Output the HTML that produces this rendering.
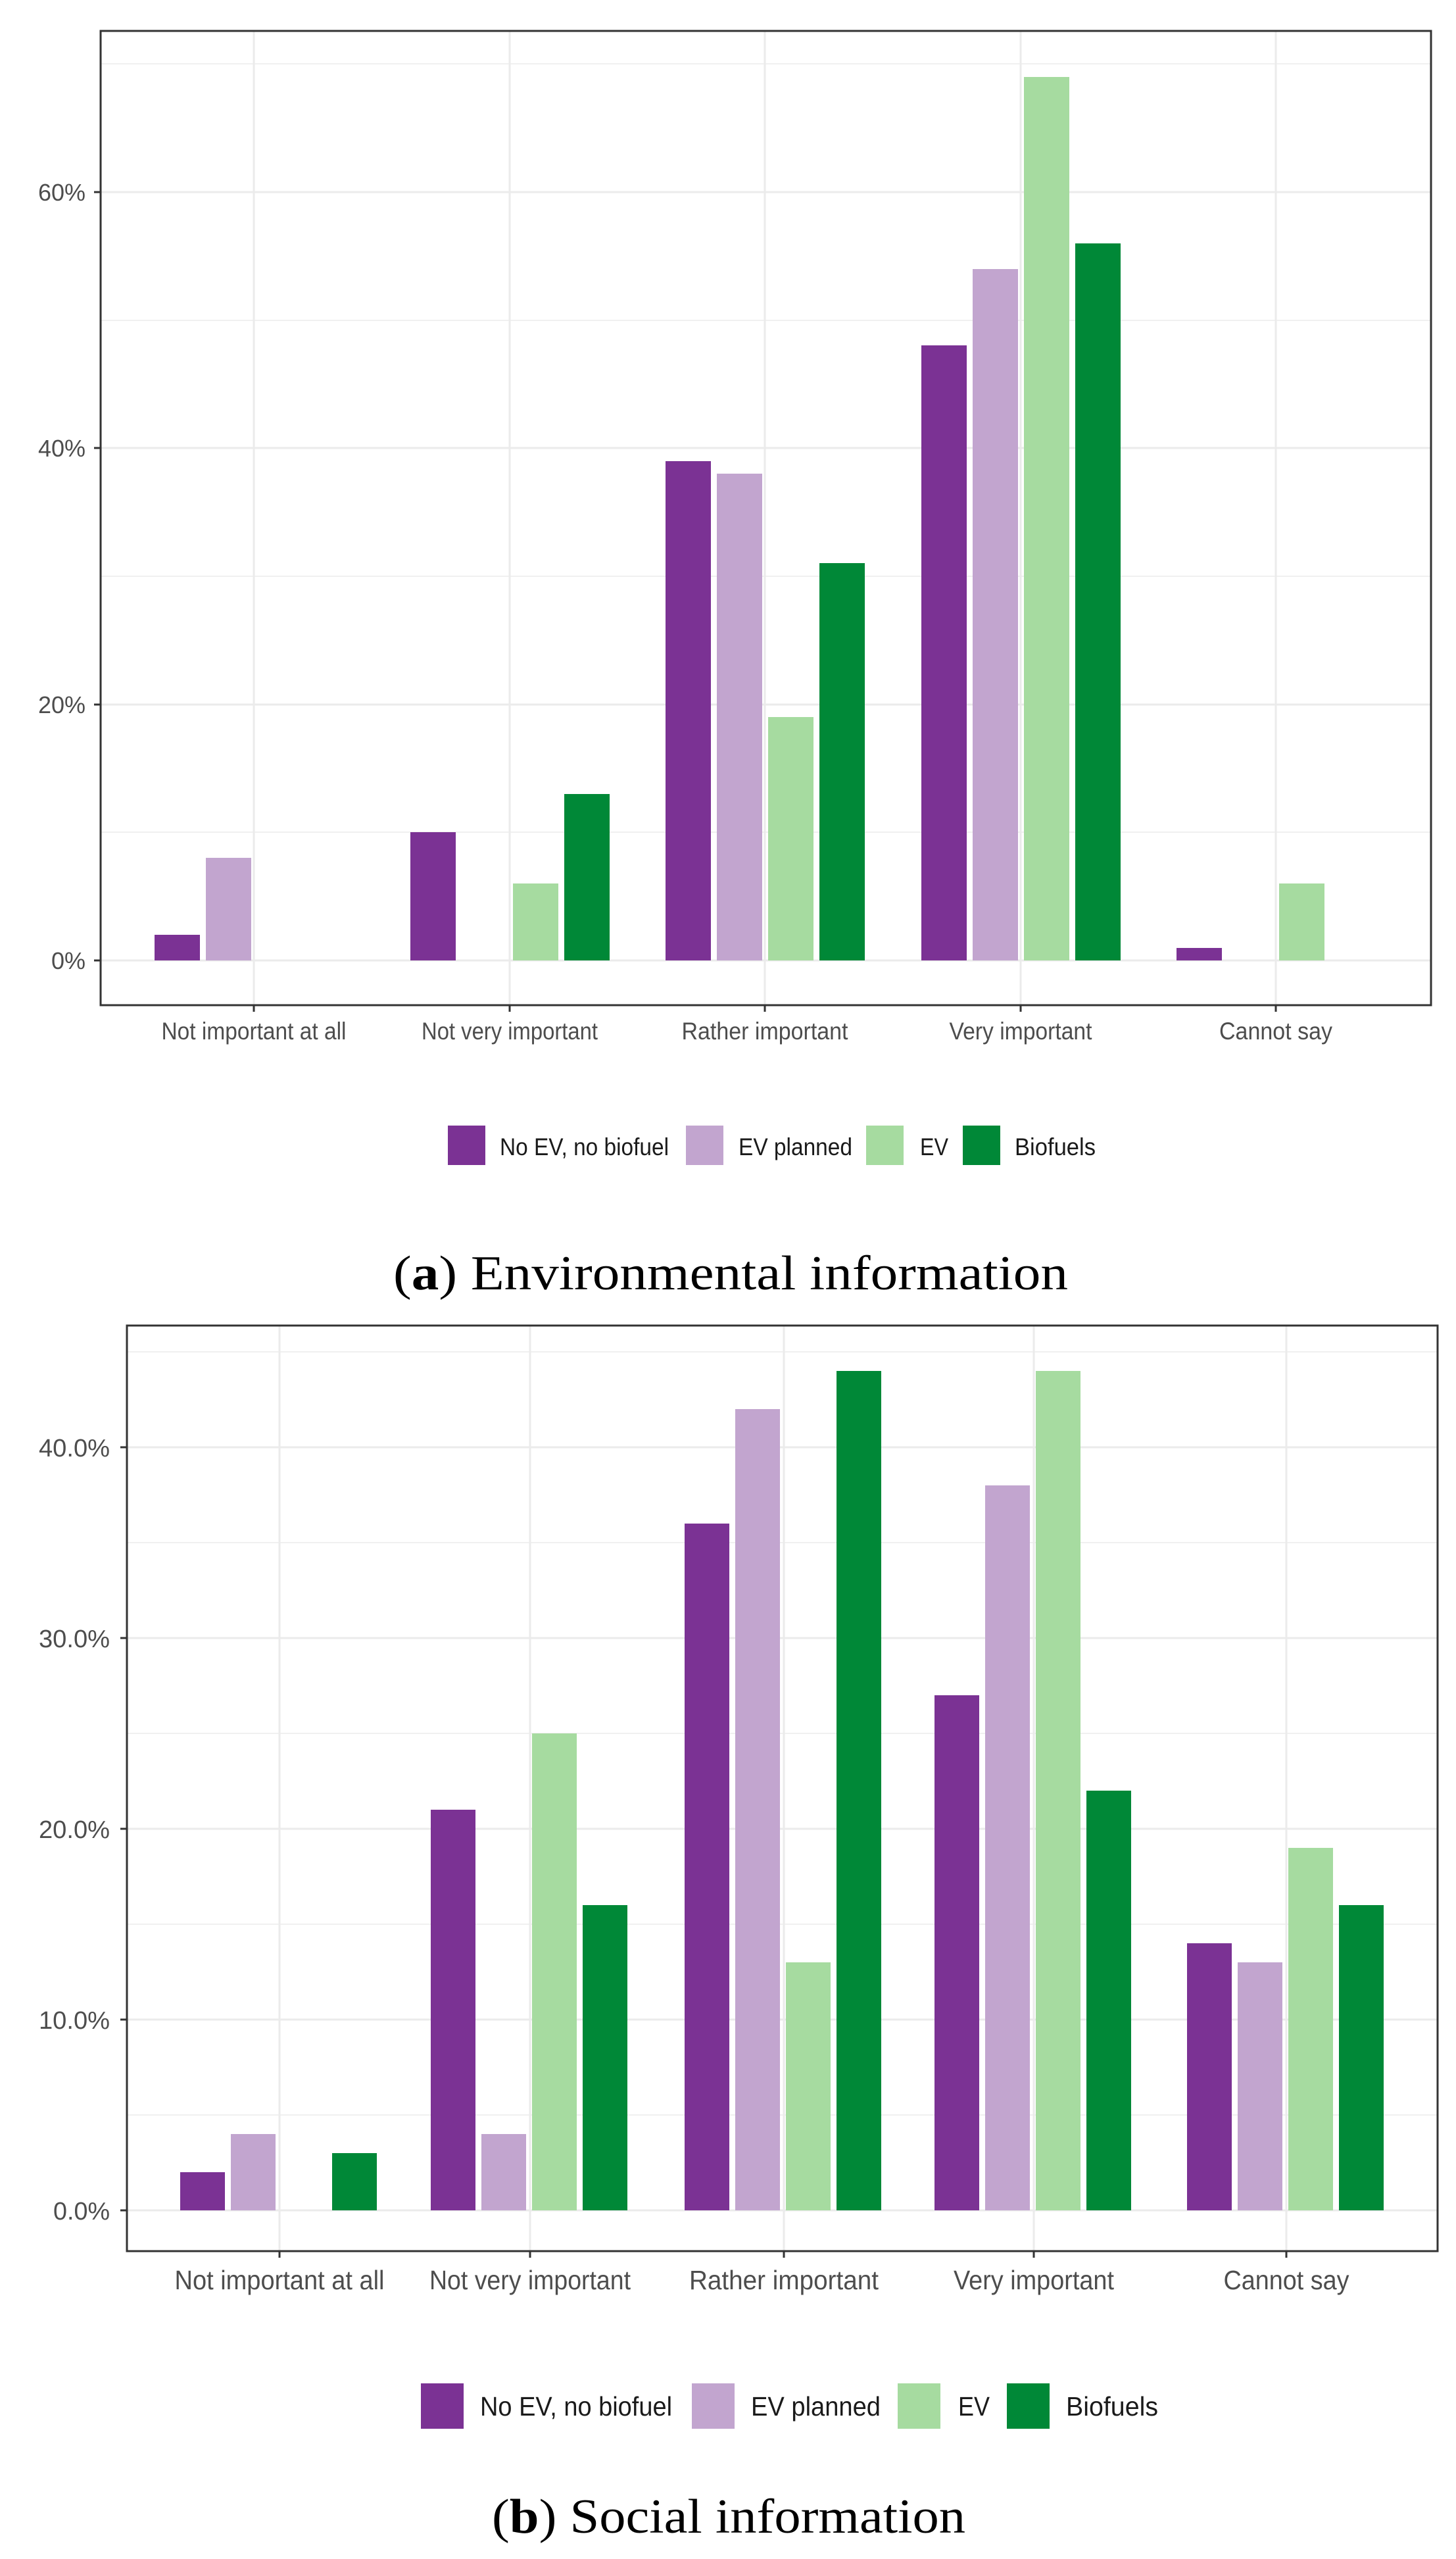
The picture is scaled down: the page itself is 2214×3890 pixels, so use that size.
<!DOCTYPE html>
<html><head><meta charset="utf-8"><style>
html,body{margin:0;padding:0;background:#fff;}
svg{display:block;}
.t{font-family:"Liberation Sans",Arial,sans-serif;fill:#4d4d4d;}
.l{font-family:"Liberation Sans",Arial,sans-serif;fill:#1a1a1a;}
.c{font-family:"Liberation Serif","DejaVu Serif",serif;fill:#000;}
</style></head><body>
<svg width="2214" height="3890" xmlns="http://www.w3.org/2000/svg">
<rect width="2214" height="3890" fill="#fff"/>
<!-- Chart A -->
<g stroke="#ebebeb" stroke-width="1.5">
<line x1="153" x2="2176" y1="1265" y2="1265"/><line x1="153" x2="2176" y1="876" y2="876"/><line x1="153" x2="2176" y1="487" y2="487"/><line x1="153" x2="2176" y1="97" y2="97"/>
</g>
<g stroke="#ebebeb" stroke-width="3">
<line x1="153" x2="2176" y1="1460" y2="1460"/><line x1="153" x2="2176" y1="1071" y2="1071"/><line x1="153" x2="2176" y1="681" y2="681"/><line x1="153" x2="2176" y1="292" y2="292"/>
<line x1="386" x2="386" y1="47" y2="1528"/><line x1="775" x2="775" y1="47" y2="1528"/><line x1="1163" x2="1163" y1="47" y2="1528"/><line x1="1552" x2="1552" y1="47" y2="1528"/><line x1="1940" x2="1940" y1="47" y2="1528"/>
</g>
<g>
<rect x="235" y="1421" width="69" height="39" fill="#7b3294"/>
<rect x="313" y="1304" width="69" height="156" fill="#c2a5cf"/>
<rect x="624" y="1265" width="69" height="195" fill="#7b3294"/>
<rect x="780" y="1343" width="69" height="117" fill="#a6dba0"/>
<rect x="858" y="1207" width="69" height="253" fill="#008837"/>
<rect x="1012" y="701" width="69" height="759" fill="#7b3294"/>
<rect x="1090" y="720" width="69" height="740" fill="#c2a5cf"/>
<rect x="1168" y="1090" width="69" height="370" fill="#a6dba0"/>
<rect x="1246" y="856" width="69" height="604" fill="#008837"/>
<rect x="1401" y="525" width="69" height="935" fill="#7b3294"/>
<rect x="1479" y="409" width="69" height="1051" fill="#c2a5cf"/>
<rect x="1557" y="117" width="69" height="1343" fill="#a6dba0"/>
<rect x="1635" y="370" width="69" height="1090" fill="#008837"/>
<rect x="1789" y="1441" width="69" height="19" fill="#7b3294"/>
<rect x="1945" y="1343" width="69" height="117" fill="#a6dba0"/>
</g>
<rect x="153" y="47" width="2023" height="1481" fill="none" stroke="#333" stroke-width="3"/>
<g stroke="#333" stroke-width="3">
<line x1="143" x2="153" y1="1460" y2="1460"/><line x1="143" x2="153" y1="1071" y2="1071"/><line x1="143" x2="153" y1="681" y2="681"/><line x1="143" x2="153" y1="292" y2="292"/>
<line x1="386" x2="386" y1="1528" y2="1538"/><line x1="775" x2="775" y1="1528" y2="1538"/><line x1="1163" x2="1163" y1="1528" y2="1538"/><line x1="1552" x2="1552" y1="1528" y2="1538"/><line x1="1940" x2="1940" y1="1528" y2="1538"/>
</g>
<g class="t" font-size="36" text-anchor="end">
<text x="130" y="1473">0%</text><text x="130" y="1084">20%</text><text x="130" y="694">40%</text><text x="130" y="305">60%</text>
</g>
<g class="t" font-size="37" text-anchor="middle">
<text x="386" y="1580" textLength="281" lengthAdjust="spacingAndGlyphs">Not important at all</text>
<text x="775" y="1580" textLength="268" lengthAdjust="spacingAndGlyphs">Not very important</text>
<text x="1163" y="1580" textLength="253" lengthAdjust="spacingAndGlyphs">Rather important</text>
<text x="1552" y="1580" textLength="217" lengthAdjust="spacingAndGlyphs">Very important</text>
<text x="1940" y="1580" textLength="172" lengthAdjust="spacingAndGlyphs">Cannot say</text>
</g>
<rect x="681" y="1711" width="57" height="60" fill="#7b3294"/>
<rect x="1043" y="1711" width="57" height="60" fill="#c2a5cf"/>
<rect x="1317" y="1711" width="57" height="60" fill="#a6dba0"/>
<rect x="1464" y="1711" width="57" height="60" fill="#008837"/>
<g class="l" font-size="37">
<text x="760" y="1756" textLength="257" lengthAdjust="spacingAndGlyphs">No EV, no biofuel</text>
<text x="1123" y="1756" textLength="173" lengthAdjust="spacingAndGlyphs">EV planned</text>
<text x="1399" y="1756" textLength="43" lengthAdjust="spacingAndGlyphs">EV</text>
<text x="1543" y="1756" textLength="123" lengthAdjust="spacingAndGlyphs">Biofuels</text>
</g>
<text class="c" x="598" y="1960" font-size="74" textLength="1026" lengthAdjust="spacingAndGlyphs">(<tspan font-weight="bold">a</tspan>) Environmental information</text>

<!-- Chart B -->
<g stroke="#ebebeb" stroke-width="1.5">
<line x1="193" x2="2186" y1="3215" y2="3215"/><line x1="193" x2="2186" y1="2925" y2="2925"/><line x1="193" x2="2186" y1="2635" y2="2635"/><line x1="193" x2="2186" y1="2345" y2="2345"/><line x1="193" x2="2186" y1="2055" y2="2055"/>
</g>
<g stroke="#ebebeb" stroke-width="3">
<line x1="193" x2="2186" y1="3360" y2="3360"/><line x1="193" x2="2186" y1="3070" y2="3070"/><line x1="193" x2="2186" y1="2780" y2="2780"/><line x1="193" x2="2186" y1="2490" y2="2490"/><line x1="193" x2="2186" y1="2200" y2="2200"/>
<line x1="425" x2="425" y1="2015" y2="3422"/><line x1="806" x2="806" y1="2015" y2="3422"/><line x1="1192" x2="1192" y1="2015" y2="3422"/><line x1="1572" x2="1572" y1="2015" y2="3422"/><line x1="1956" x2="1956" y1="2015" y2="3422"/>
</g>
<g>
<rect x="274" y="3302" width="68" height="58" fill="#7b3294"/>
<rect x="351" y="3244" width="68" height="116" fill="#c2a5cf"/>
<rect x="505" y="3273" width="68" height="87" fill="#008837"/>
<rect x="655" y="2751" width="68" height="609" fill="#7b3294"/>
<rect x="732" y="3244" width="68" height="116" fill="#c2a5cf"/>
<rect x="809" y="2635" width="68" height="725" fill="#a6dba0"/>
<rect x="886" y="2896" width="68" height="464" fill="#008837"/>
<rect x="1041" y="2316" width="68" height="1044" fill="#7b3294"/>
<rect x="1118" y="2142" width="68" height="1218" fill="#c2a5cf"/>
<rect x="1195" y="2983" width="68" height="377" fill="#a6dba0"/>
<rect x="1272" y="2084" width="68" height="1276" fill="#008837"/>
<rect x="1421" y="2577" width="68" height="783" fill="#7b3294"/>
<rect x="1498" y="2258" width="68" height="1102" fill="#c2a5cf"/>
<rect x="1575" y="2084" width="68" height="1276" fill="#a6dba0"/>
<rect x="1652" y="2722" width="68" height="638" fill="#008837"/>
<rect x="1805" y="2954" width="68" height="406" fill="#7b3294"/>
<rect x="1882" y="2983" width="68" height="377" fill="#c2a5cf"/>
<rect x="1959" y="2809" width="68" height="551" fill="#a6dba0"/>
<rect x="2036" y="2896" width="68" height="464" fill="#008837"/>
</g>
<rect x="193" y="2015" width="1993" height="1407" fill="none" stroke="#333" stroke-width="3"/>
<g stroke="#333" stroke-width="3">
<line x1="183" x2="193" y1="3360" y2="3360"/><line x1="183" x2="193" y1="3070" y2="3070"/><line x1="183" x2="193" y1="2780" y2="2780"/><line x1="183" x2="193" y1="2490" y2="2490"/><line x1="183" x2="193" y1="2200" y2="2200"/>
<line x1="425" x2="425" y1="3422" y2="3432"/><line x1="806" x2="806" y1="3422" y2="3432"/><line x1="1192" x2="1192" y1="3422" y2="3432"/><line x1="1572" x2="1572" y1="3422" y2="3432"/><line x1="1956" x2="1956" y1="3422" y2="3432"/>
</g>
<g class="t" font-size="38" text-anchor="end">
<text x="167" y="3374" textLength="86" lengthAdjust="spacingAndGlyphs">0.0%</text>
<text x="167" y="3084" textLength="108" lengthAdjust="spacingAndGlyphs">10.0%</text>
<text x="167" y="2794" textLength="108" lengthAdjust="spacingAndGlyphs">20.0%</text>
<text x="167" y="2504" textLength="108" lengthAdjust="spacingAndGlyphs">30.0%</text>
<text x="167" y="2214" textLength="108" lengthAdjust="spacingAndGlyphs">40.0%</text>
</g>
<g class="t" font-size="41" text-anchor="middle">
<text x="425" y="3480" textLength="319" lengthAdjust="spacingAndGlyphs">Not important at all</text>
<text x="806" y="3480" textLength="306" lengthAdjust="spacingAndGlyphs">Not very important</text>
<text x="1192" y="3480" textLength="288" lengthAdjust="spacingAndGlyphs">Rather important</text>
<text x="1572" y="3480" textLength="244" lengthAdjust="spacingAndGlyphs">Very important</text>
<text x="1956" y="3480" textLength="191" lengthAdjust="spacingAndGlyphs">Cannot say</text>
</g>
<rect x="640" y="3623" width="65" height="69" fill="#7b3294"/>
<rect x="1052" y="3623" width="65" height="69" fill="#c2a5cf"/>
<rect x="1365" y="3623" width="65" height="69" fill="#a6dba0"/>
<rect x="1531" y="3623" width="65" height="69" fill="#008837"/>
<g class="l" font-size="41">
<text x="730" y="3672" textLength="292" lengthAdjust="spacingAndGlyphs">No EV, no biofuel</text>
<text x="1142" y="3672" textLength="197" lengthAdjust="spacingAndGlyphs">EV planned</text>
<text x="1457" y="3672" textLength="48" lengthAdjust="spacingAndGlyphs">EV</text>
<text x="1621" y="3672" textLength="140" lengthAdjust="spacingAndGlyphs">Biofuels</text>
</g>
<text class="c" x="748" y="3850" font-size="74" textLength="720" lengthAdjust="spacingAndGlyphs">(<tspan font-weight="bold">b</tspan>) Social information</text>
</svg>
</body></html>
